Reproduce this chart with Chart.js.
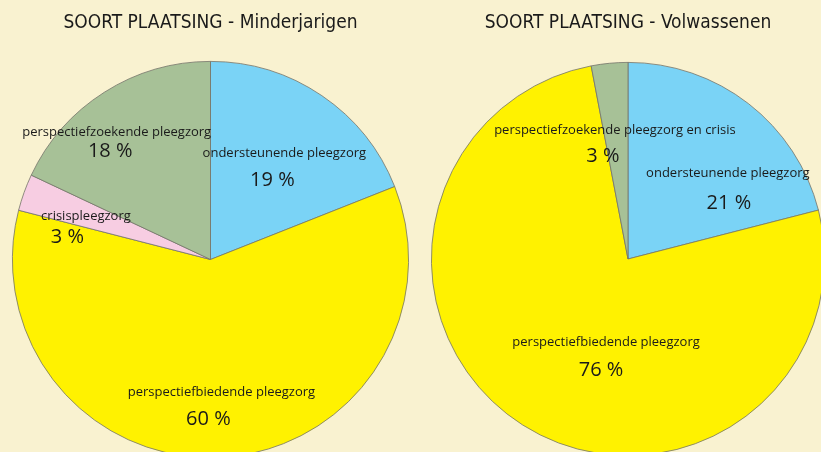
<!DOCTYPE html>
<html>
<head>
<meta charset="utf-8">
<script src="https://cdn.jsdelivr.net/npm/chart.js@4"></script>
<style>
  html, body { margin: 0; padding: 0; width: 821px; height: 452px; overflow: hidden; background: #f9f2d0; }
  canvas { position: absolute; top: 0; }
  #minder { left: 0; }
  #volw { left: 410px; }
</style>
</head>
<body>
<canvas id="minder" width="422" height="520"></canvas>
<canvas id="volw" width="440" height="520"></canvas>
<script>
// data
const minderLabels = ['ondersteunende pleegzorg', 'perspectiefbiedende pleegzorg', 'crisispleegzorg', 'perspectiefzoekende pleegzorg'];
const minderValues = [19, 60, 3, 18];
const volwLabels = ['ondersteunende pleegzorg', 'perspectiefbiedende pleegzorg', 'perspectiefzoekende pleegzorg en crisis'];
const volwValues = [21, 76, 3];

// styles
const minderColors = ['#7ad3f6', '#fff200', '#f7cde2', '#a7c197'];
const volwColors = ['#7ad3f6', '#fff200', '#a7c197'];
// where the labels sit: angle from top (deg), distance as fraction of radius, then offset of the % text
const minderLabelPos = [[34.7, 0.655, -12, 27], [175.3, 0.673, -13, 26.5], [289, 0.665, -18.5, 20.5], [323.5, 0.796, -6.5, 19]];
const volwLabelPos = [[49.3, 0.67, 1, 30], [194.7, 0.44, -5, 27.5], [354.2, 0.66, -12, 26]];

const titleFont = "'DejaVu Sans Condensed', 'Roboto', sans-serif";
const labelFont = "'Open Sans', 'Noto Sans', sans-serif";

const sliceLabels = {
  id: 'sliceLabels',
  afterDatasetsDraw(chart, args, opts) {
    const ctx = chart.ctx;
    const meta = chart.getDatasetMeta(0);
    const values = chart.data.datasets[0].data;
    ctx.save();
    ctx.fillStyle = '#1a1a1a';
    ctx.textAlign = 'center';
    ctx.textBaseline = 'middle';
    meta.data.forEach((arc, i) => {
      const p = opts.pos[i];
      const a = p[0] * Math.PI / 180;
      const r = arc.outerRadius * p[1];
      const x = arc.x + Math.sin(a) * r;
      const y = arc.y - Math.cos(a) * r;
      ctx.font = '13px ' + labelFont;
      ctx.fillText(chart.data.labels[i], x, y);
      ctx.font = '20px ' + labelFont;
      ctx.fillText(values[i] + ' %', x + p[2], y + p[3]);
    });
    ctx.restore();
  }
};

function makePie(id, title, labels, values, colors, pos, pad, titlePadBottom) {
  new Chart(document.getElementById(id), {
    type: 'pie',
    data: {
      labels: labels,
      datasets: [{
        data: values,
        backgroundColor: colors,
        borderColor: '#74746a',
        borderWidth: 0.8
      }]
    },
    options: {
      responsive: false,
      animation: false,
      layout: { padding: pad },
      plugins: {
        legend: { display: false },
        tooltip: { enabled: false },
        title: {
          display: true,
          text: title,
          color: '#1a1a1a',
          font: { family: titleFont, size: 19, weight: 'normal', lineHeight: 1.2 },
          padding: { top: 12, bottom: titlePadBottom }
        },
        sliceLabels: { pos: pos }
      }
    },
    plugins: [sliceLabels]
  });
}

makePie('minder', 'SOORT PLAATSING - Minderjarigen', minderLabels, minderValues, minderColors, minderLabelPos,
  { left: 12, right: 13, top: 0, bottom: 62 }, 26.2);
makePie('volw', 'SOORT PLAATSING - Volwassenen', volwLabels, volwValues, volwColors, volwLabelPos,
  { left: 21, right: 25, top: 0, bottom: 64 }, 27.2);
</script>
</body>
</html>
